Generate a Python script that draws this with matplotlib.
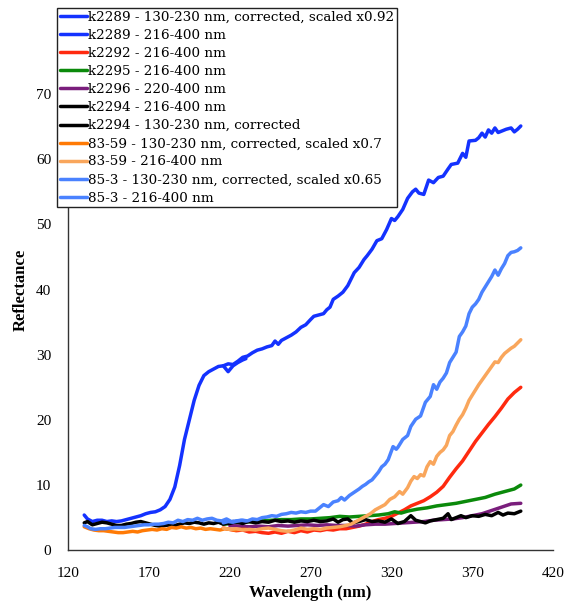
import matplotlib
matplotlib.use("Agg")
import matplotlib.pyplot as plt

# k2289 - 130-230 nm, corrected, scaled x0.92
wl_k2289_c = [130, 132, 135, 138, 141, 144, 147, 150, 153, 156, 159, 162, 165, 168, 171, 174, 177, 180,
              183, 186, 189, 192, 195, 198, 201, 204, 207, 210, 213, 216, 219, 222, 225, 228, 230]
r_k2289_c = [5.4, 4.8, 4.4, 4.6, 4.6, 4.4, 4.5, 4.4, 4.5, 4.7, 4.9, 5.1, 5.3, 5.6, 5.8, 5.9, 6.2, 6.7,
             7.8, 9.7, 13.0, 17.0, 20.0, 23.0, 25.3, 26.8, 27.4, 27.8, 28.2, 28.3, 27.4, 28.3, 28.8, 29.2, 29.4]

# k2289 - 216-400 nm
wl_k2289 = [216, 219, 222, 225, 228, 231, 234, 237, 240, 243, 246, 248, 250, 252, 255, 258, 261, 264,
            267, 270, 272, 275, 278, 280, 282, 284, 287, 290, 293, 295, 297, 300, 303, 305, 308, 311,
            314, 317, 320, 322, 324, 327, 330, 333, 335, 337, 340, 343, 346, 349, 352, 355, 357, 361,
            364, 366, 368, 372, 374, 376, 378, 380, 382, 384, 386, 388, 391, 394, 396, 398, 400]
r_k2289 = [28.3, 28.6, 28.5, 29.0, 29.6, 29.8, 30.3, 30.7, 30.9, 31.2, 31.4, 32.1, 31.6, 32.2, 32.6, 33.0,
           33.5, 34.2, 34.6, 35.4, 35.9, 36.1, 36.3, 36.9, 37.3, 38.5, 39.0, 39.6, 40.6, 41.6, 42.6, 43.4,
           44.6, 45.2, 46.2, 47.5, 47.8, 49.2, 50.9, 50.6, 51.2, 52.3, 54.0, 55.0, 55.4, 54.8, 54.6, 56.8,
           56.4, 57.2, 57.4, 58.5, 59.2, 59.4, 60.9, 60.3, 62.8, 62.9, 63.3, 64.0, 63.4, 64.5, 64.0, 64.8,
           64.1, 64.3, 64.6, 64.8, 64.2, 64.6, 65.1]

# k2292 - 216-400 nm
wl_k2292 = [216, 220, 224, 228, 232, 236, 240, 244, 248, 252, 256, 260, 264, 268, 272, 276, 280, 284,
            288, 292, 296, 300, 304, 308, 312, 316, 320, 324, 328, 332, 336, 340, 344, 348, 352, 356,
            360, 364, 368, 372, 376, 380, 384, 388, 392, 396, 400]
r_k2292 = [3.4, 3.2, 3.0, 3.1, 2.8, 2.9, 2.7, 2.6, 2.8, 2.6, 2.9, 2.7, 3.0, 2.8, 3.1, 3.0, 3.2, 3.1,
           3.3, 3.3, 3.5, 3.7, 4.0, 4.4, 4.7, 4.9, 5.2, 5.7, 6.2, 6.8, 7.2, 7.6, 8.2, 8.9, 9.8, 11.2,
           12.5, 13.7, 15.2, 16.7, 18.0, 19.3, 20.5, 21.8, 23.2, 24.2, 25.0]

# k2295 - 216-400 nm
wl_k2295 = [216, 222, 228, 234, 240, 246, 252, 258, 264, 270, 276, 282, 288, 294, 300, 306, 312, 318,
            322, 326, 330, 336, 342, 348, 354, 360, 366, 372, 378, 384, 390, 396, 400]
r_k2295 = [4.0, 4.1, 4.3, 4.4, 4.5, 4.6, 4.7, 4.7, 4.8, 4.8, 4.9, 5.0, 5.2, 5.1, 5.2, 5.3, 5.4, 5.6,
           5.9, 5.7, 6.0, 6.3, 6.5, 6.8, 7.0, 7.2, 7.5, 7.8, 8.1, 8.6, 9.0, 9.4, 10.0]

# k2296 - 220-400 nm
wl_k2296 = [220, 226, 232, 238, 244, 250, 256, 262, 268, 274, 280, 286, 292, 298, 304, 310, 316, 322,
            328, 334, 340, 346, 352, 358, 364, 370, 376, 382, 388, 394, 400]
r_k2296 = [3.8, 3.7, 3.6, 3.7, 3.6, 3.8, 3.7, 3.8, 3.9, 3.8, 3.9, 3.8, 3.8, 3.7, 3.9, 4.0, 4.0, 4.1,
           4.2, 4.3, 4.4, 4.6, 4.7, 4.8, 5.0, 5.3, 5.6, 6.1, 6.6, 7.1, 7.2]

# k2294 - 216-400 nm
wl_k2294 = [216, 220, 224, 228, 232, 236, 240, 244, 248, 252, 256, 260, 264, 268, 272, 276, 280, 284,
            287, 290, 293, 296, 300, 304, 308, 312, 316, 320, 324, 328, 332, 335, 338, 341, 344, 348,
            352, 355, 357, 360, 363, 366, 370, 374, 378, 382, 386, 389, 392, 396, 400]
r_k2294 = [4.3, 4.1, 4.4, 4.2, 4.4, 4.2, 4.4, 4.3, 4.6, 4.4, 4.5, 4.3, 4.5, 4.4, 4.6, 4.4, 4.5, 4.8,
           4.3, 4.7, 4.8, 4.2, 4.4, 4.7, 4.4, 4.5, 4.3, 4.8, 4.1, 4.4, 5.3, 4.6, 4.4, 4.2, 4.5, 4.7,
           4.9, 5.6, 4.7, 5.0, 5.3, 5.0, 5.3, 5.2, 5.5, 5.3, 5.8, 5.4, 5.7, 5.6, 6.0]

# k2294 - 130-230 nm, corrected
wl_k2294_c = [130, 132, 135, 138, 141, 144, 147, 150, 153, 156, 159, 162, 165, 168, 171, 174, 177, 180,
              183, 186, 189, 192, 195, 198, 201, 204, 207, 210, 213, 216, 219, 222, 225, 228, 230]
r_k2294_c = [4.2, 4.4, 3.9, 4.1, 4.3, 4.2, 4.0, 3.8, 3.8, 4.0, 4.1, 4.3, 4.4, 4.2, 4.0, 3.8, 3.7, 3.8,
             3.9, 3.8, 4.0, 4.2, 4.1, 4.3, 4.2, 4.0, 4.2, 4.1, 4.3, 4.0, 4.2, 4.4, 4.3, 4.1, 4.3]

# 83-59 - 130-230 nm, corrected, scaled x0.7
wl_8359_c = [130, 133, 136, 139, 142, 145, 148, 151, 154, 157, 160, 163, 166, 169, 172, 175, 178, 181,
             184, 187, 190, 193, 196, 199, 202, 205, 208, 211, 214, 217, 220, 223, 226, 230]
r_8359_c = [3.6, 3.3, 3.1, 3.0, 3.0, 2.9, 2.8, 2.7, 2.7, 2.8, 2.9, 2.8, 3.0, 3.1, 3.2, 3.1, 3.3, 3.2,
            3.5, 3.4, 3.6, 3.4, 3.5, 3.3, 3.4, 3.2, 3.3, 3.2, 3.1, 3.3, 3.2, 3.1, 3.2, 3.2]

# 83-59 - 216-400 nm
wl_8359 = [216, 220, 224, 228, 232, 236, 240, 244, 248, 252, 256, 260, 264, 268, 272, 276, 280, 284,
           288, 292, 295, 298, 301, 304, 307, 310, 313, 316, 319, 322, 325, 327, 330, 332, 334, 336,
           338, 340, 342, 344, 346, 348, 350, 352, 354, 356, 358, 360, 362, 364, 366, 368, 370, 372,
           374, 376, 378, 380, 382, 384, 386, 388, 390, 392, 394, 396, 398, 400]
r_8359 = [3.4, 3.2, 3.3, 3.1, 3.2, 3.1, 3.3, 3.4, 3.2, 3.0, 2.9, 3.1, 3.4, 3.2, 3.3, 3.2, 3.4, 3.5,
          3.6, 3.8, 4.0, 4.4, 4.8, 5.2, 5.6, 6.2, 6.6, 7.0, 7.8, 8.2, 9.0, 8.6, 9.6, 10.6, 11.3, 11.0,
          11.6, 11.4, 12.8, 13.6, 13.2, 14.4, 15.0, 15.4, 16.1, 17.6, 18.2, 19.2, 20.1, 20.8, 21.8, 23.0,
          23.8, 24.6, 25.4, 26.1, 26.8, 27.5, 28.2, 28.9, 28.8, 29.6, 30.2, 30.6, 31.0, 31.3, 31.8, 32.3]

# 85-3 - 130-230 nm, corrected, scaled x0.65
wl_853_c = [130, 132, 134, 137, 140, 143, 146, 149, 152, 155, 158, 161, 164, 167, 170, 173, 176, 179,
            182, 185, 188, 191, 194, 197, 200, 203, 206, 209, 212, 215, 218, 221, 224, 227, 230]
r_853_c = [3.8, 3.6, 3.3, 3.2, 3.3, 3.3, 3.4, 3.5, 3.5, 3.5, 3.6, 3.7, 3.8, 3.9, 3.9, 4.0, 4.0, 4.1,
           4.3, 4.2, 4.6, 4.4, 4.7, 4.6, 4.9, 4.6, 4.8, 4.9, 4.6, 4.5, 4.8, 4.4, 4.5, 4.6, 4.5]

# 85-3 - 216-400 nm
wl_853 = [216, 219, 222, 225, 228, 231, 234, 237, 240, 243, 246, 249, 252, 255, 258, 261, 264, 267,
          270, 273, 275, 278, 281, 284, 287, 289, 291, 294, 297, 300, 302, 304, 306, 308, 310, 312,
          314, 316, 318, 321, 323, 324, 327, 330, 332, 335, 338, 341, 344, 346, 348, 350, 352, 354,
          356, 358, 360, 362, 364, 366, 368, 370, 372, 374, 376, 378, 380, 382, 384, 386, 388, 390,
          392, 394, 396, 398, 400]
r_853 = [4.2, 4.4, 4.3, 4.5, 4.6, 4.5, 4.8, 4.7, 5.0, 5.1, 5.3, 5.2, 5.5, 5.6, 5.8, 5.7, 5.9, 5.8,
         6.0, 6.0, 6.4, 7.0, 6.7, 7.4, 7.6, 8.1, 7.7, 8.4, 8.9, 9.4, 9.8, 10.1, 10.5, 10.8, 11.4, 12.0,
         12.8, 13.2, 13.9, 15.9, 15.5, 15.8, 17.0, 17.6, 19.0, 20.1, 20.6, 22.7, 23.6, 25.4, 24.7, 25.8,
         26.4, 27.2, 28.8, 29.6, 30.4, 32.8, 33.5, 34.4, 36.3, 37.3, 37.8, 38.5, 39.6, 40.4, 41.2, 42.0,
         43.0, 42.2, 43.2, 44.0, 45.2, 45.7, 45.8, 46.0, 46.4]

series = [
    (wl_k2289_c, r_k2289_c, "k2289 - 130-230 nm, corrected, scaled x0.92", "#1432FF"),
    (wl_k2289, r_k2289, "k2289 - 216-400 nm", "#1432FF"),
    (wl_k2292, r_k2292, "k2292 - 216-400 nm", "#FF2A0F"),
    (wl_k2295, r_k2295, "k2295 - 216-400 nm", "#0B8A0B"),
    (wl_k2296, r_k2296, "k2296 - 220-400 nm", "#7A1E7C"),
    (wl_k2294, r_k2294, "k2294 - 216-400 nm", "#000000"),
    (wl_k2294_c, r_k2294_c, "k2294 - 130-230 nm, corrected", "#000000"),
    (wl_8359_c, r_8359_c, "83-59 - 130-230 nm, corrected, scaled x0.7", "#FF7A05"),
    (wl_8359, r_8359, "83-59 - 216-400 nm", "#F9A65C"),
    (wl_853_c, r_853_c, "85-3 - 130-230 nm, corrected, scaled x0.65", "#4A82FF"),
    (wl_853, r_853, "85-3 - 216-400 nm", "#4A82FF"),
]

plt.rcParams["font.family"] = ["Liberation Serif", "DejaVu Serif"]

fig = plt.figure(figsize=(5.72, 6.02), dpi=100)
ax = fig.add_axes([0.119, 0.086, 0.848, 0.866])

for wl, r, label, color in series:
    ax.plot(wl, r, color=color, lw=2.5, label=label, solid_capstyle="round")

ax.set_xlim(120, 420)
ax.set_ylim(0, 80)
ax.set_xticks(range(120, 421, 50))
ax.set_yticks(range(0, 71, 10))
ax.tick_params(length=0, labelsize=11)
ax.tick_params(axis="y", pad=12)
ax.tick_params(axis="x", pad=12)
for side in ("top", "right"):
    ax.spines[side].set_visible(False)
for side in ("left", "bottom"):
    ax.spines[side].set_color("#333333")
    ax.spines[side].set_linewidth(1.0)

ax.set_xlabel("Wavelength (nm)", fontsize=12, fontweight="bold", labelpad=4)
ax.set_ylabel("Reflectance", fontsize=12, fontweight="bold", labelpad=5)

leg = fig.legend(loc="upper left", bbox_to_anchor=(0.0997, 0.987),
                 prop={"family": "DejaVu Serif", "size": 9.7},
                 frameon=True, fancybox=False, framealpha=1, edgecolor="#222222",
                 handlelength=2.0, handletextpad=0.12, labelspacing=0.38,
                 borderpad=0.2, borderaxespad=0)
leg.get_frame().set_linewidth(1.0)

fig.savefig("out.png", dpi=100)
